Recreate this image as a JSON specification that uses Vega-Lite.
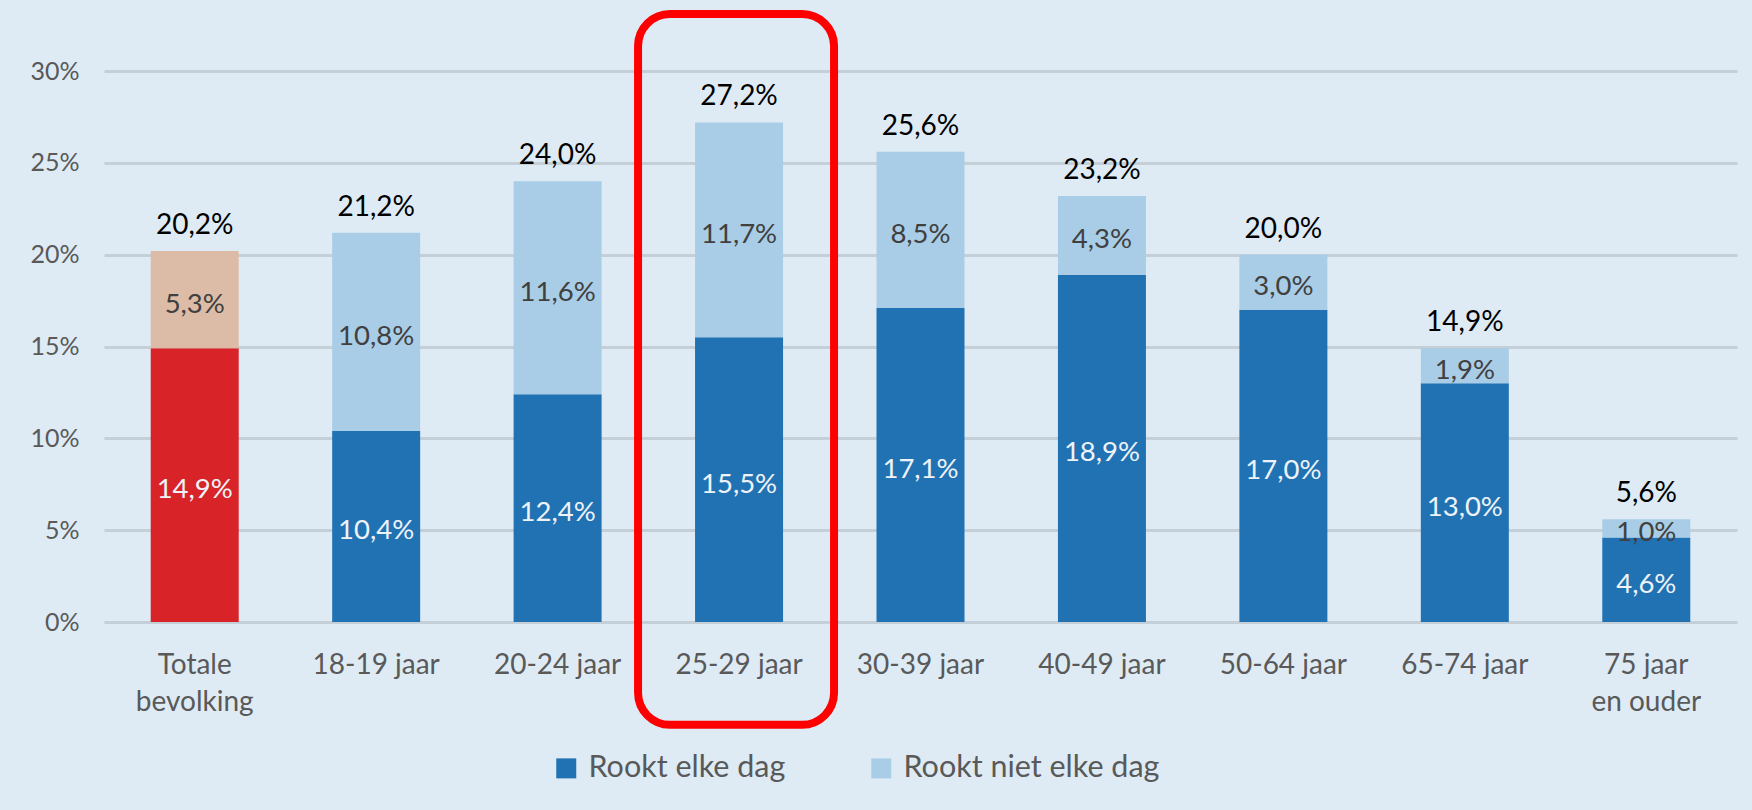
{
  "$schema": "https://vega.github.io/schema/vega-lite/v6.json",
  "width": 1633,
  "height": 551,
  "autosize": {"type": "none"},
  "padding": {"left": 104, "top": 71, "right": 15, "bottom": 188},
  "background": "#deebf5",
  "config": {
    "font": "Lato",
    "view": {"stroke": null},
    "locale": {"number": {"decimal": ",", "thousands": ".", "grouping": [3], "currency": ["€ ", ""]}}
  },
  "datasets": {
    "roken": [
      {"groep": "Totale bevolking", "segment": "Totaal: rookt elke dag", "waarde": 0.149},
      {"groep": "Totale bevolking", "segment": "Totaal: rookt niet elke dag", "waarde": 0.053},
      {"groep": "18-19 jaar", "segment": "Rookt elke dag", "waarde": 0.104},
      {"groep": "18-19 jaar", "segment": "Rookt niet elke dag", "waarde": 0.108},
      {"groep": "20-24 jaar", "segment": "Rookt elke dag", "waarde": 0.124},
      {"groep": "20-24 jaar", "segment": "Rookt niet elke dag", "waarde": 0.116},
      {"groep": "25-29 jaar", "segment": "Rookt elke dag", "waarde": 0.155},
      {"groep": "25-29 jaar", "segment": "Rookt niet elke dag", "waarde": 0.117},
      {"groep": "30-39 jaar", "segment": "Rookt elke dag", "waarde": 0.171},
      {"groep": "30-39 jaar", "segment": "Rookt niet elke dag", "waarde": 0.085},
      {"groep": "40-49 jaar", "segment": "Rookt elke dag", "waarde": 0.189},
      {"groep": "40-49 jaar", "segment": "Rookt niet elke dag", "waarde": 0.043},
      {"groep": "50-64 jaar", "segment": "Rookt elke dag", "waarde": 0.170},
      {"groep": "50-64 jaar", "segment": "Rookt niet elke dag", "waarde": 0.030},
      {"groep": "65-74 jaar", "segment": "Rookt elke dag", "waarde": 0.130},
      {"groep": "65-74 jaar", "segment": "Rookt niet elke dag", "waarde": 0.019},
      {"groep": "75 jaar en ouder", "segment": "Rookt elke dag", "waarde": 0.046},
      {"groep": "75 jaar en ouder", "segment": "Rookt niet elke dag", "waarde": 0.010}
    ],
    "markering": [
      {"groep": "25-29 jaar", "van": -0.056, "tot": 0.331}
    ]
  },
  "encoding": {
    "x": {
      "field": "groep",
      "type": "nominal",
      "scale": {
        "domain": ["Totale bevolking", "18-19 jaar", "20-24 jaar", "25-29 jaar", "30-39 jaar", "40-49 jaar", "50-64 jaar", "65-74 jaar", "75 jaar en ouder"],
        "paddingInner": 0.515,
        "paddingOuter": 0.2575
      },
      "axis": {
        "title": null,
        "domain": false,
        "ticks": false,
        "tickSize": 0,
        "labelAngle": 0,
        "labelFont": "Lato",
        "labelFontSize": 28,
        "labelColor": "#595959",
        "labelPadding": 29,
        "labelLimit": 300,
        "labelLineHeight": 37,
        "labelExpr": "datum.value == 'Totale bevolking' ? ['Totale', 'bevolking'] : datum.value == '75 jaar en ouder' ? ['75 jaar', 'en ouder'] : datum.label"
      }
    }
  },
  "layer": [
    {
      "data": {"name": "roken"},
      "mark": {"type": "bar"},
      "encoding": {
        "y": {
          "field": "waarde",
          "type": "quantitative",
          "stack": "zero",
          "scale": {"domain": [0, 0.3], "nice": false, "zero": false},
          "axis": {
            "title": null,
            "values": [0, 0.05, 0.1, 0.15, 0.2, 0.25, 0.3],
            "format": ".0%",
            "domain": false,
            "ticks": false,
            "tickSize": 0,
            "labelFont": "Lato",
            "labelFontSize": 25,
            "labelColor": "#595959",
            "labelPadding": 25,
            "gridColor": "#c4cfd8",
            "gridWidth": 3
          }
        },
        "order": {"field": "segment", "sort": "ascending"},
        "color": {
          "field": "segment",
          "type": "nominal",
          "scale": {
            "domain": ["Rookt elke dag", "Rookt niet elke dag", "Totaal: rookt elke dag", "Totaal: rookt niet elke dag"],
            "range": ["#2172b3", "#a9cde6", "#d82329", "#ddbca7"]
          },
          "legend": {
            "values": ["Rookt elke dag", "Rookt niet elke dag"],
            "title": null,
            "orient": "none",
            "direction": "horizontal",
            "legendX": 447,
            "legendY": 682,
            "padding": 0,
            "symbolType": "square",
            "symbolSize": 400,
            "symbolStrokeWidth": 0,
            "labelFont": "Lato",
            "labelFontSize": 30.5,
            "labelColor": "#595959",
            "labelOffset": 7,
            "labelLimit": 400,
            "columnPadding": 80
          }
        }
      }
    },
    {
      "data": {"name": "roken"},
      "transform": [
        {"stack": "waarde", "groupby": ["groep"], "sort": [{"field": "segment", "order": "ascending"}], "as": ["onder", "boven"]},
        {"fold": ["onder", "boven"], "as": ["rand", "pos"]},
        {"aggregate": [{"op": "mean", "field": "pos", "as": "midden"}], "groupby": ["groep", "segment", "waarde"]}
      ],
      "mark": {"type": "text", "font": "Lato", "fontSize": 27.5, "baseline": "alphabetic", "align": "center", "dy": 13},
      "encoding": {
        "y": {"field": "midden", "type": "quantitative"},
        "text": {"field": "waarde", "type": "quantitative", "format": ".1%"},
        "color": {
          "condition": {"test": "datum.segment == 'Rookt niet elke dag' || datum.segment == 'Totaal: rookt niet elke dag'", "value": "#404040"},
          "value": "#eef3f8"
        }
      }
    },
    {
      "data": {"name": "roken"},
      "transform": [
        {"aggregate": [{"op": "sum", "field": "waarde", "as": "totaal"}], "groupby": ["groep"]}
      ],
      "mark": {"type": "text", "font": "Lato", "fontSize": 28, "baseline": "alphabetic", "align": "center", "dy": -17, "color": "#000000"},
      "encoding": {
        "y": {"field": "totaal", "type": "quantitative"},
        "text": {"field": "totaal", "type": "quantitative", "format": ".1%"}
      }
    },
    {
      "data": {"name": "markering"},
      "mark": {"type": "bar", "width": 196, "xOffset": -3, "fill": "transparent", "stroke": "#ff0000", "strokeWidth": 8, "cornerRadius": 32},
      "encoding": {
        "y": {"field": "van", "type": "quantitative"},
        "y2": {"field": "tot"}
      }
    }
  ]
}
